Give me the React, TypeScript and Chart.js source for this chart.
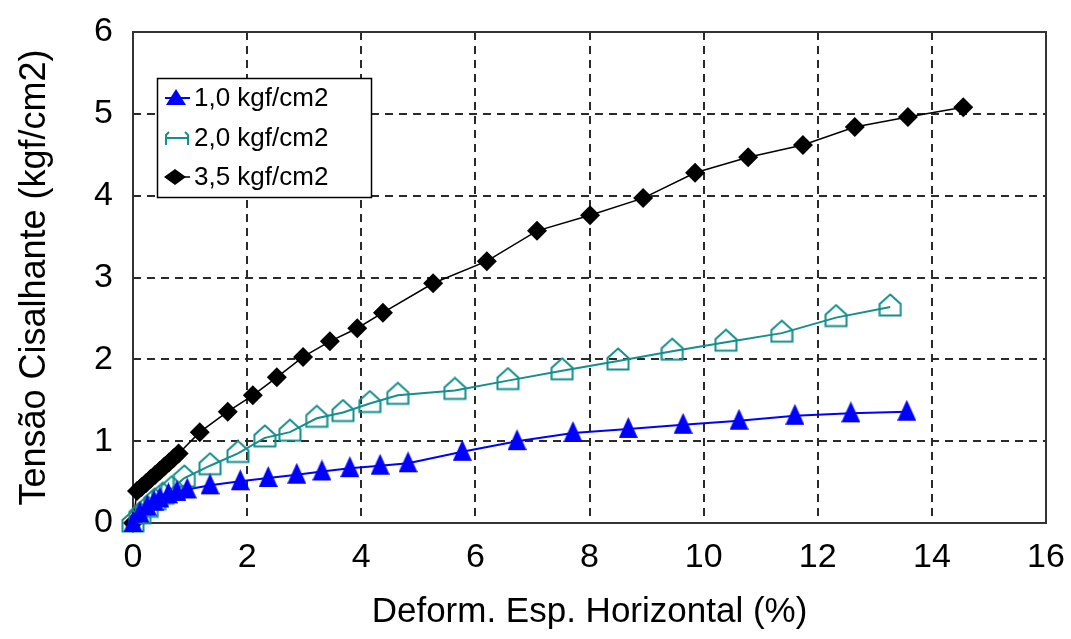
import React, { useEffect, useRef } from 'react';
import { Chart, registerables } from 'chart.js';

Chart.register(...registerables);

// ---- data ----
const SERIES_LABELS = ['1,0 kgf/cm2', '2,0 kgf/cm2', '3,5 kgf/cm2'];

const s10X = [0, 0.12, 0.25, 0.37, 0.47, 0.62, 0.77, 0.95, 1.35, 1.88, 2.37, 2.87, 3.31, 3.8, 4.33, 4.82, 5.77, 6.73, 7.71, 8.68, 9.64, 10.62, 11.6, 12.58, 13.56];
const s10Y = [0, 0.12, 0.2, 0.26, 0.3, 0.35, 0.38, 0.41, 0.46, 0.51, 0.55, 0.59, 0.63, 0.67, 0.7, 0.73, 0.87, 1.0, 1.1, 1.15, 1.2, 1.25, 1.31, 1.34, 1.36];

const s20X = [0, 0.12, 0.25, 0.38, 0.52, 0.68, 0.9, 1.35, 1.84, 2.31, 2.75, 3.22, 3.68, 4.15, 4.64, 5.64, 6.57, 7.52, 8.5, 9.45, 10.39, 11.37, 12.32, 13.27];
const s20Y = [0, 0.1, 0.18, 0.27, 0.34, 0.42, 0.55, 0.7, 0.85, 1.04, 1.11, 1.28, 1.35, 1.46, 1.56, 1.62, 1.74, 1.86, 1.98, 2.1, 2.21, 2.32, 2.51, 2.64];

const s35X = [0, 0.07, 0.15, 0.23, 0.31, 0.39, 0.47, 0.55, 0.63, 0.71, 0.8, 1.17, 1.66, 2.1, 2.52, 2.98, 3.45, 3.93, 4.38, 5.26, 6.2, 7.08, 8.01, 8.94, 9.85, 10.78, 11.74, 12.65, 13.58, 14.55];
const s35Y = [0, 0.39, 0.44, 0.49, 0.54, 0.59, 0.64, 0.69, 0.74, 0.79, 0.85, 1.11, 1.36, 1.56, 1.78, 2.03, 2.22, 2.38, 2.57, 2.93, 3.2, 3.57, 3.76, 3.97, 4.28, 4.47, 4.62, 4.84, 4.96, 5.08];

const X_MIN = 0, X_MAX = 16, X_STEP = 2;
const Y_MIN = 0, Y_MAX = 6, Y_STEP = 1;
const X_TITLE = 'Deform. Esp. Horizontal (%)';
const Y_TITLE = 'Tensão Cisalhante (kgf/cm2)';

const BLUE = '#0000ff';
const TEAL = '#138f8c';
const BLACK = '#000000';
const FONT = 'Arial, "Liberation Sans", sans-serif';

const toPoints = (xs: number[], ys: number[]) => xs.map((x, i) => ({ x, y: ys[i] }));

function makeTriangle(color: string): HTMLCanvasElement {
  const c = document.createElement('canvas');
  c.width = 19; c.height = 24;
  const ctx = c.getContext('2d')!;
  ctx.fillStyle = color;
  ctx.beginPath();
  ctx.moveTo(9.5, 0);
  ctx.lineTo(19, 21);
  ctx.lineTo(0, 21);
  ctx.closePath();
  ctx.fill();
  return c;
}

function makeHouse(color: string): HTMLCanvasElement {
  const c = document.createElement('canvas');
  c.width = 24; c.height = 28;
  const ctx = c.getContext('2d')!;
  ctx.strokeStyle = color;
  ctx.lineWidth = 2;
  ctx.beginPath();
  ctx.moveTo(12, 1.5);
  ctx.lineTo(22.5, 11);
  ctx.lineTo(22.5, 22.5);
  ctx.lineTo(1.5, 22.5);
  ctx.lineTo(1.5, 11);
  ctx.closePath();
  ctx.stroke();
  return c;
}

const framePlugin = {
  id: 'frame',
  beforeDatasetsDraw(chart: any) {
    const { ctx, chartArea: a } = chart;
    ctx.save();
    ctx.strokeStyle = '#333';
    ctx.lineWidth = 2;
    ctx.strokeRect(a.left, a.top, a.right - a.left, a.bottom - a.top);
    ctx.restore();
  },
};

const legendPlugin = {
  id: 'boxLegend',
  afterDraw(chart: any) {
    const { ctx, chartArea: a } = chart;
    const left = a.left + 24;
    const top = a.top + 46;
    const w = 214;
    const h = 119;
    ctx.save();
    ctx.fillStyle = '#ffffff';
    ctx.fillRect(left, top, w, h);
    ctx.strokeStyle = '#000';
    ctx.lineWidth = 1.5;
    ctx.strokeRect(left + 0.5, top + 0.5, w, h);
    const rows = [top + 20, top + 60, top + 99];
    ctx.font = `26px ${FONT}`;
    ctx.textBaseline = 'middle';
    ctx.fillStyle = '#000';
    // row 1: blue triangle
    let y = rows[0];
    ctx.strokeStyle = BLUE; ctx.lineWidth = 2;
    ctx.beginPath(); ctx.moveTo(left + 8, y); ctx.lineTo(left + 33, y); ctx.stroke();
    ctx.fillStyle = BLUE;
    ctx.beginPath(); ctx.moveTo(left + 19, y - 9); ctx.lineTo(left + 29, y + 7); ctx.lineTo(left + 9, y + 7); ctx.closePath(); ctx.fill();
    // row 2: teal house-like mark
    y = rows[1];
    ctx.strokeStyle = TEAL; ctx.lineWidth = 2;
    ctx.beginPath();
    ctx.moveTo(left + 9, y); ctx.lineTo(left + 32, y);
    ctx.moveTo(left + 9, y + 7); ctx.lineTo(left + 9, y - 3); ctx.lineTo(left + 12, y - 6);
    ctx.moveTo(left + 31, y + 7); ctx.lineTo(left + 31, y - 3); ctx.lineTo(left + 28, y - 6);
    ctx.stroke();
    // row 3: black diamond blob
    y = rows[2];
    ctx.strokeStyle = BLACK; ctx.lineWidth = 1.5;
    ctx.beginPath(); ctx.moveTo(left + 8, y); ctx.lineTo(left + 33, y); ctx.stroke();
    ctx.fillStyle = BLACK;
    ctx.beginPath(); ctx.moveTo(left + 18, y - 8); ctx.lineTo(left + 29, y); ctx.lineTo(left + 18, y + 8); ctx.lineTo(left + 7, y); ctx.closePath(); ctx.fill();
    // texts
    ctx.fillStyle = '#000';
    SERIES_LABELS.forEach((t, i) => ctx.fillText(t, left + 37, rows[i] + 1));
    ctx.restore();
  },
};

export default function App() {
  const ref = useRef<HTMLCanvasElement | null>(null);

  useEffect(() => {
    if (!ref.current) return;
    const tri = makeTriangle(BLUE);
    const house = makeHouse(TEAL);
    const chart = new Chart(ref.current, {
      type: 'line',
      data: {
        datasets: [
          {
            label: SERIES_LABELS[0],
            data: toPoints(s10X, s10Y),
            borderColor: BLUE,
            borderWidth: 2,
            pointStyle: tri as any,
            pointRadius: 10,
            tension: 0,
            clip: false as any,
          },
          {
            label: SERIES_LABELS[1],
            data: toPoints(s20X, s20Y),
            borderColor: TEAL,
            borderWidth: 2,
            pointStyle: house as any,
            pointRadius: 10,
            tension: 0,
            clip: false as any,
          },
          {
            label: SERIES_LABELS[2],
            data: toPoints(s35X, s35Y),
            borderColor: BLACK,
            backgroundColor: BLACK,
            borderWidth: 1.5,
            pointStyle: 'rectRot',
            pointRadius: 10,
            pointBorderWidth: 0,
            tension: 0,
            clip: false as any,
          },
        ],
      },
      options: {
        animation: false,
        responsive: false,
        devicePixelRatio: 1,
        layout: { padding: { top: 32, right: 25, left: 0, bottom: 0 } },
        plugins: { legend: { display: false }, tooltip: { enabled: false } },
        scales: {
          x: {
            type: 'linear',
            min: X_MIN,
            max: X_MAX,
            afterFit: (s: any) => { s.height = 116; s.paddingLeft = 0; s.paddingRight = 0; },
            ticks: { stepSize: X_STEP, color: '#000', font: { family: FONT, size: 34 }, padding: 14, maxRotation: 0 },
            grid: { color: '#2a2a2a', lineWidth: 2, drawTicks: false },
            border: { display: false, dash: [8, 6] },
            title: { display: true, text: X_TITLE, color: '#000', font: { family: FONT, size: 35 }, padding: { top: 0, bottom: 6 } },
          },
          y: {
            type: 'linear',
            min: Y_MIN,
            max: Y_MAX,
            afterFit: (s: any) => { s.width = 133; s.paddingTop = 0; s.paddingBottom = 0; },
            ticks: { stepSize: Y_STEP, color: '#000', font: { family: FONT, size: 34 }, padding: 20 },
            grid: { color: '#2a2a2a', lineWidth: 2, drawTicks: false },
            border: { display: false, dash: [8, 6] },
            title: { display: true, text: Y_TITLE, color: '#000', font: { family: FONT, size: 36 }, padding: { top: 13, bottom: 0 } },
          },
        },
      },
      plugins: [framePlugin, legendPlugin],
    });
    return () => chart.destroy();
  }, []);

  return (
    <div style={{ position: 'fixed', left: 0, top: 0, width: 1071, height: 639, background: '#fff' }}>
      <canvas ref={ref} width={1071} height={639} />
    </div>
  );
}
